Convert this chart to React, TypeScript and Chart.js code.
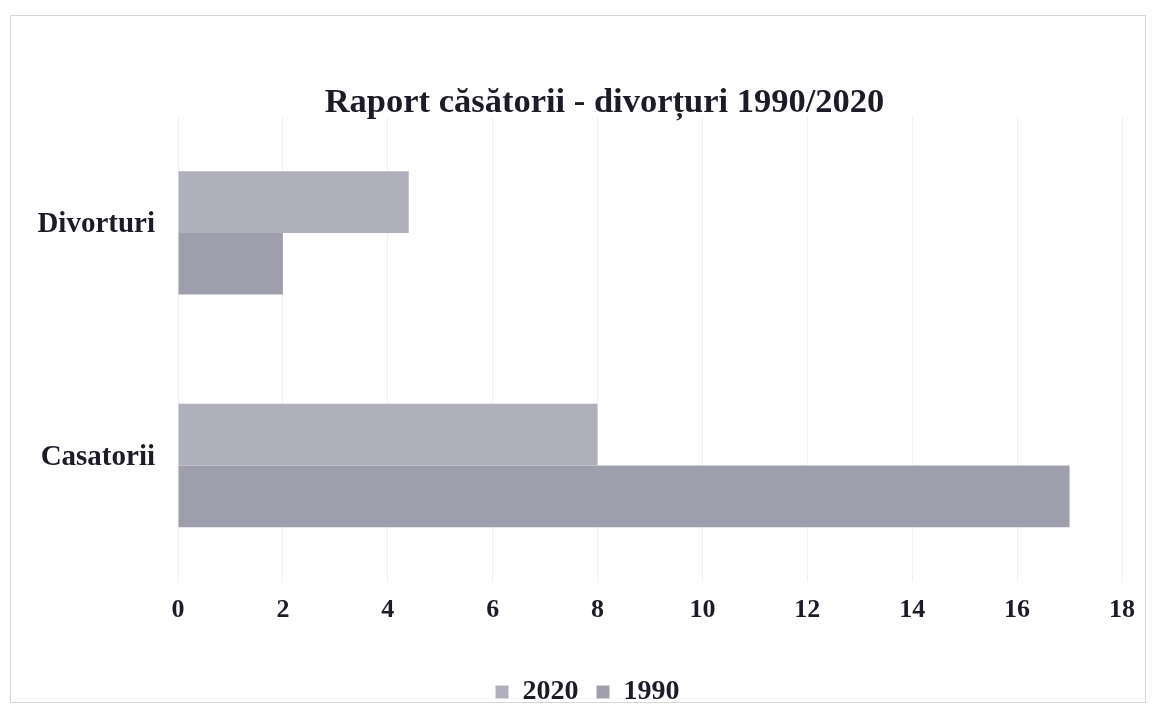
import React, { useEffect, useRef } from "react";
import { Chart, registerables } from "chart.js";

Chart.register(...registerables);

const categories = ["Divorturi", "Casatorii"];
const seriesNames = ["2020", "1990"];
const values2020 = [4.4, 8];
const values1990 = [2, 17];
const xTicks = [0, 2, 4, 6, 8, 10, 12, 14, 16, 18];

const FONT = "'Liberation Serif', 'DejaVu Serif', serif";
const TEXT = "#1c1c28";

const frame = {
  id: "frame",
  beforeDraw(chart: any) {
    const { ctx, width, height } = chart;
    ctx.save();
    ctx.fillStyle = "#ffffff";
    ctx.fillRect(0, 0, width, height);
    ctx.strokeStyle = "#d6d6d6";
    ctx.lineWidth = 1;
    ctx.strokeRect(2.5, 7.5, width - 5, height - 12);
    ctx.restore();
  },
  afterLayout(chart: any) {
    if (chart.legend) {
      chart.legend.left += 13;
      chart.legend.right += 13;
    }
    if (chart.titleBlock) {
      chart.titleBlock.left += 30;
      chart.titleBlock.right += 30;
    }
  },
};

export default function App() {
  const ref = useRef<HTMLCanvasElement | null>(null);

  useEffect(() => {
    if (!ref.current) return;
    const chart = new Chart(ref.current, {
      type: "bar",
      data: {
        labels: categories,
        datasets: [
          {
            label: seriesNames[0],
            data: values2020,
            backgroundColor: "#b0b0bd",
            borderWidth: 0,
          },
          {
            label: seriesNames[1],
            data: values1990,
            backgroundColor: "#9e9eac",
            borderWidth: 0,
          },
        ],
      },
      options: {
        indexAxis: "y",
        animation: false,
        responsive: true,
        maintainAspectRatio: false,
        datasets: {
          bar: { categoryPercentage: 0.53, barPercentage: 1 },
        },
        layout: { padding: { left: 18, right: 25, top: 0, bottom: -9 } },
        plugins: {
          title: {
            display: true,
            text: "Raport căsătorii - divorțuri 1990/2020",
            color: TEXT,
            font: { family: FONT, size: 34.5, weight: "bold", lineHeight: 0.8 },
            padding: { top: 81, bottom: 0 },
          },
          legend: {
            position: "bottom",
            labels: {
              color: TEXT,
              font: { family: FONT, size: 28, weight: "bold" },
              boxWidth: 13,
              boxHeight: 13,
              padding: 4,
              generateLabels(chart: any) {
                const items = Chart.defaults.plugins.legend.labels.generateLabels(chart);
                return items.map((it: any, i: number) =>
                  i < items.length - 1 ? { ...it, text: it.text + "  " } : it
                );
              },
            },
          },
          tooltip: { enabled: false },
        },
        scales: {
          x: {
            min: 0,
            max: 18,
            afterBuildTicks(scale: any) {
              scale.ticks = xTicks.map((v) => ({ value: v }));
            },
            afterFit(scale: any) {
              scale.height += 35;
            },
            ticks: {
              color: TEXT,
              font: { family: FONT, size: 26, weight: "bold" },
              padding: 13,
            },
            grid: { color: "#f1f1f1", drawTicks: false },
            border: { display: false },
          },
          y: {
            afterFit(scale: any) {
              scale.width = 152;
            },
            ticks: {
              color: TEXT,
              font: { family: FONT, size: 29, weight: "bold" },
              padding: 23,
              labelOffset: -8,
            },
            grid: { display: false, drawTicks: false },
            border: { display: false },
          },
        },
      },
      plugins: [frame],
    });
    return () => chart.destroy();
  }, []);

  return (
    <div style={{ width: 1140, height: 699, position: "relative" }}>
      <canvas ref={ref} />
    </div>
  );
}
